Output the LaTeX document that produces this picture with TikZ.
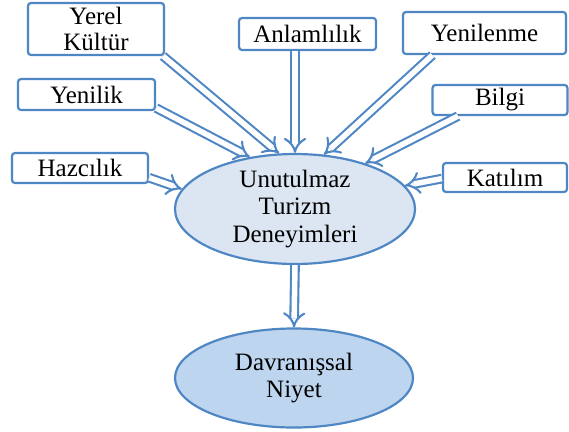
\documentclass[tikz,border=0pt]{standalone}
\usepackage{fontspec}
\setmainfont{Liberation Serif}
\usetikzlibrary{arrows.meta,shapes.geometric}
\definecolor{edge}{HTML}{4F87C4}
\definecolor{fillA}{HTML}{DCE6F2}
\definecolor{fillB}{HTML}{BDD5EE}
\tikzset{
  box/.style={draw=edge, line width=2.2pt, rounded corners=3pt, fill=white,
    align=center, inner sep=0pt, font=\rmfamily\fontsize{25}{26}\selectfont},
  oval/.style={ellipse, draw=edge, line width=2.2pt, align=center, inner sep=0pt,
    font=\rmfamily\fontsize{25}{27.5}\selectfont},
  flow/.style={draw=edge, line width=2.1pt, double=white, double distance=5.5pt,
    -{Implies[length=4pt]}}
}
\begin{document}
\begin{tikzpicture}[x=1pt,y=-1pt]
\useasboundingbox (0,0) rectangle (569,431);
% central construct and outcome
\node[oval, fill=fillA, minimum width=240pt, minimum height=98pt] (ut) at (295,209)
  {Unutulmaz\\Turizm\\Deneyimleri};
\node[oval, fill=fillB, minimum width=238pt, minimum height=99pt] (dn) at (294,378)
  {Davranışsal\\Niyet};
% dimension boxes
\node[box, minimum width=136pt, minimum height=52pt] (yerel) at (96,29) {Yerel\\Kültür};
\node[box, minimum width=137pt, minimum height=31pt] (yenilik) at (86.5,94.5) {Yenilik};
\node[box, minimum width=136pt, minimum height=30pt] (haz) at (80,168) {Hazcılık};
\node[box, minimum width=137pt, minimum height=32pt] (anlam) at (307.5,34) {Anlamlılık};
\node[box, minimum width=163pt, minimum height=42pt] (yenilenme) at (484.5,33) {Yenilenme};
\node[box, minimum width=135pt, minimum height=30pt] (bilgi) at (500,100) {Bilgi};
\node[box, minimum width=124pt, minimum height=29pt] (katilim) at (505,177.5) {Katılım};
% arrows into the central ellipse
\draw[flow] (yerel.-22) -- (ut.106);
\draw[flow] (yenilik.-11) -- (ut.131);
\draw[flow] (haz.-8) -- (ut.170);
\draw[flow] (anlam.south -| ut.north) -- (ut.north);
\draw[flow] (yenilenme.-157) -- (ut.62);
\draw[flow] (bilgi.-159) -- (ut.33);
\draw[flow] (katilim.-179) -- (ut.12);
% outcome arrow
\draw[flow] (ut.south) -- (dn.north);
\end{tikzpicture}
\end{document}
